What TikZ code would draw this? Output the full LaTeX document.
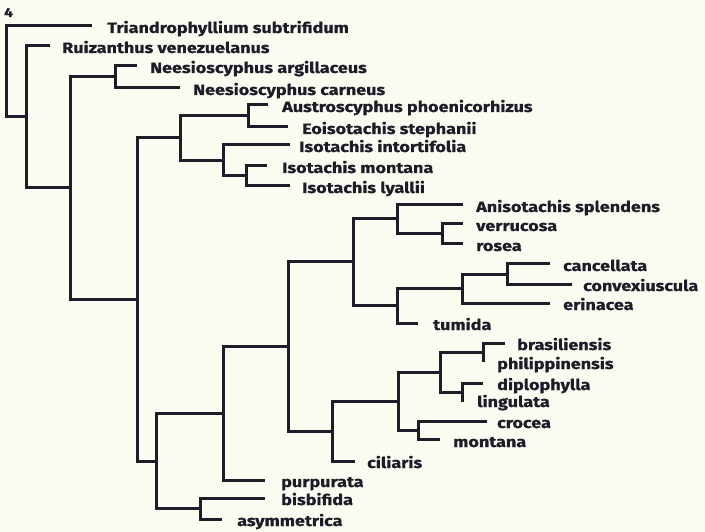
\documentclass[tikz,border=0pt]{standalone}
\usepackage{fontspec}
\setmainfont{Fira Sans}[BoldFeatures={FakeStretch=1.2,FakeBold=0.8}]
\definecolor{bg}{RGB}{250,252,242}
\definecolor{ink}{RGB}{30,28,40}
\begin{document}
\begin{tikzpicture}[x=1pt,y=-1pt,
  br/.style={draw=ink,line width=3pt,line join=miter},
  lab/.style={anchor=base west,inner sep=0pt,text=ink,font=\fontsize{15}{15}\selectfont\bfseries}]
\fill[bg] (0,0) rectangle (705,532);
\useasboundingbox (0,0) rectangle (705,532);
% internal nodes
\coordinate (R) at (6,71.5);
\coordinate (A) at (26,117);
\coordinate (B) at (70,188);
\coordinate (C) at (115,77);
\coordinate (D) at (137,299);
\coordinate (E) at (180,138);
\coordinate (G) at (248,116);
\coordinate (H) at (223,160.5);
\coordinate (I) at (246,176);
\coordinate (F) at (156,461);
\coordinate (K) at (200,508.5);
\coordinate (J) at (223,413);
\coordinate (L) at (288,346.5);
\coordinate (M) at (353,262);
\coordinate (N) at (332,431);
\coordinate (O) at (397,219);
\coordinate (Q) at (442,234);
\coordinate (P) at (397,305.5);
\coordinate (S) at (462,288.5);
\coordinate (U) at (507,274);
\coordinate (V) at (398,401);
\coordinate (W) at (440,372.5);
\coordinate (X) at (418,430);
\coordinate (Y) at (483,352.5);
\coordinate (Z) at (462,392.5);
% tips
\coordinate (t1) at (92,26);
\coordinate (t2) at (50,46);
\coordinate (t3) at (137,66);
\coordinate (t4) at (180,88);
\coordinate (t5) at (268,105);
\coordinate (t6) at (288,127);
\coordinate (t7) at (290,145);
\coordinate (t8) at (267,166);
\coordinate (t9) at (290,186);
\coordinate (t10) at (463,205);
\coordinate (t11) at (463,224);
\coordinate (t12) at (463,244);
\coordinate (t13) at (550,264);
\coordinate (t14) at (572,284);
\coordinate (t15) at (550,303);
\coordinate (t16) at (418,323);
\coordinate (t17) at (505,343);
\coordinate (t18) at (483,362);
\coordinate (t19) at (483,383);
\coordinate (t20) at (462,402);
\coordinate (t21) at (487,421);
\coordinate (t22) at (440,439);
\coordinate (t23) at (355,461);
\coordinate (t24) at (265,480);
\coordinate (t25) at (265,498);
\coordinate (t26) at (222,519);
% branches
\draw[br] (R) |- (t1); \draw[br] (R) |- (A);
\draw[br] (A) |- (t2); \draw[br] (A) |- (B);
\draw[br] (B) |- (C); \draw[br] (B) |- (D);
\draw[br] (C) |- (t3); \draw[br] (C) |- (t4);
\draw[br] (D) |- (E); \draw[br] (D) |- (F);
\draw[br] (E) |- (G); \draw[br] (E) |- (H);
\draw[br] (G) |- (t5); \draw[br] (G) |- (t6);
\draw[br] (H) |- (t7); \draw[br] (H) |- (I);
\draw[br] (I) |- (t8); \draw[br] (I) |- (t9);
\draw[br] (F) |- (J); \draw[br] (F) |- (K);
\draw[br] (K) |- (t25); \draw[br] (K) |- (t26);
\draw[br] (J) |- (L); \draw[br] (J) |- (t24);
\draw[br] (L) |- (M); \draw[br] (L) |- (N);
\draw[br] (M) |- (O); \draw[br] (M) |- (P);
\draw[br] (O) |- (t10); \draw[br] (O) |- (Q);
\draw[br] (Q) |- (t11); \draw[br] (Q) |- (t12);
\draw[br] (P) |- (S); \draw[br] (P) |- (t16);
\draw[br] (S) |- (U); \draw[br] (S) |- (t15);
\draw[br] (U) |- (t13); \draw[br] (U) |- (t14);
\draw[br] (N) |- (V); \draw[br] (N) |- (t23);
\draw[br] (V) |- (W); \draw[br] (V) |- (X);
\draw[br] (W) |- (Y); \draw[br] (W) |- (Z);
\draw[br] (Y) |- (t17); \draw[br] (Y) -- (t18);
\draw[br] (Z) |- (t19); \draw[br] (Z) -- (t20);
\draw[br] (X) |- (t21); \draw[br] (X) |- (t22);
% labels
\node[lab,font=\fontsize{13}{13}\selectfont\bfseries] (fig) at (4,17) {4};
\node[lab] (l1) at (107,33) {Triandrophyllium subtrifidum};
\node[lab] (l2) at (62,53) {Ruizanthus venezuelanus};
\node[lab] (l3) at (150,73) {Neesioscyphus argillaceus};
\node[lab] (l4) at (193,95) {Neesioscyphus carneus};
\node[lab] (l5) at (282,112) {Austroscyphus phoenicorhizus};
\node[lab] (l6) at (302,134) {Eoisotachis stephanii};
\node[lab] (l7) at (299,152) {Isotachis intortifolia};
\node[lab] (l8) at (282,173) {Isotachis montana};
\node[lab] (l9) at (302,193) {Isotachis lyallii};
\node[lab] (l10) at (476,212) {Anisotachis splendens};
\node[lab] (l11) at (476,231) {verrucosa};
\node[lab] (l12) at (476,251) {rosea};
\node[lab] (l13) at (563,271) {cancellata};
\node[lab] (l14) at (583,291) {convexiuscula};
\node[lab] (l15) at (563,310) {erinacea};
\node[lab] (l16) at (433,330) {tumida};
\node[lab] (l17) at (517,350) {brasiliensis};
\node[lab] (l18) at (497,369) {philippinensis};
\node[lab] (l19) at (497,390) {diplophylla};
\node[lab] (l20) at (477,407) {lingulata};
\node[lab] (l21) at (497,428) {crocea};
\node[lab] (l22) at (453,447) {montana};
\node[lab] (l23) at (367,468) {ciliaris};
\node[lab] (l24) at (281,487) {purpurata};
\node[lab] (l25) at (281,505) {bisbifida};
\node[lab] (l26) at (237,526) {asymmetrica};
\end{tikzpicture}
\end{document}
